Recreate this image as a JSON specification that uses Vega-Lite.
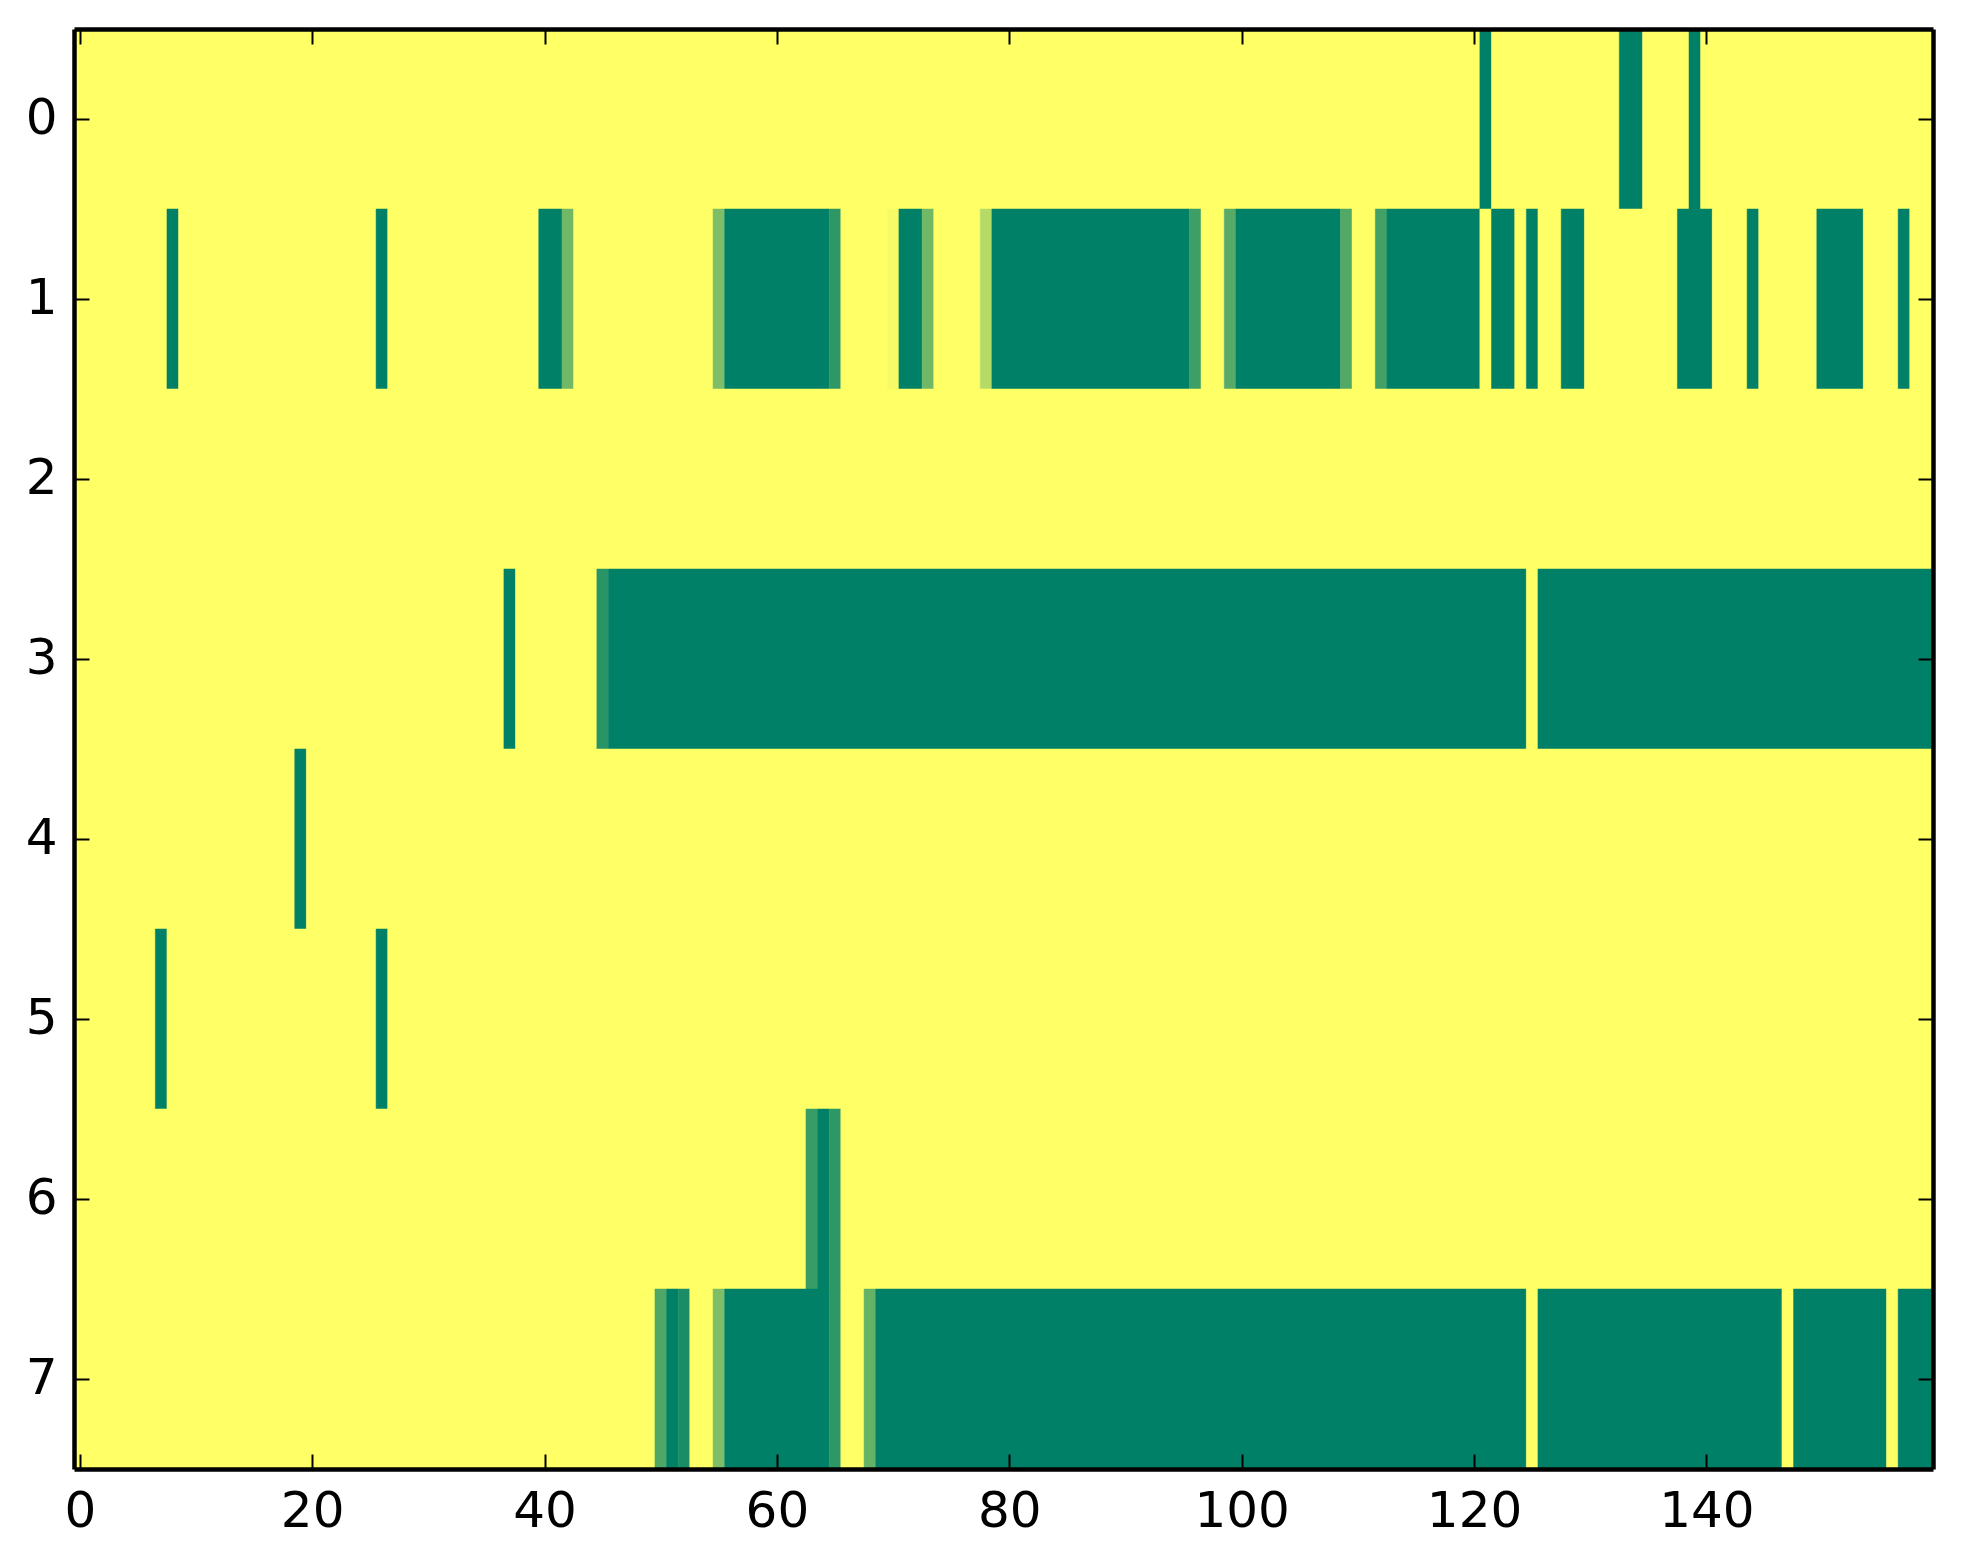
{
  "$schema": "https://vega.github.io/schema/vega-lite/v6.json",
  "width": 1859,
  "height": 1440,
  "autosize": "none",
  "padding": {"left": 74, "top": 29, "right": 30, "bottom": 95},
  "background": "white",
  "config": {
    "view": {"stroke": null},
    "axis": {
      "labelFont": "DejaVu Sans",
      "labelFontSize": 50,
      "labelColor": "black",
      "domainColor": "black",
      "domainWidth": 4.5,
      "tickColor": "black",
      "tickWidth": 2,
      "tickSize": -15,
      "grid": false,
      "title": null,
      "zindex": 2
    }
  },
  "data": {
    "values": [
      {"r": 0, "a": -0.5, "b": 120.5, "v": 1},
      {"r": 0, "a": 120.5, "b": 121.5, "v": 0},
      {"r": 0, "a": 121.5, "b": 132.5, "v": 1},
      {"r": 0, "a": 132.5, "b": 134.5, "v": 0},
      {"r": 0, "a": 134.5, "b": 138.5, "v": 1},
      {"r": 0, "a": 138.5, "b": 139.5, "v": 0},
      {"r": 0, "a": 139.5, "b": 159.5, "v": 1},

      {"r": 1, "a": -0.5, "b": 7.5, "v": 1},
      {"r": 1, "a": 7.5, "b": 8.5, "v": 0},
      {"r": 1, "a": 8.5, "b": 25.5, "v": 1},
      {"r": 1, "a": 25.5, "b": 26.5, "v": 0},
      {"r": 1, "a": 26.5, "b": 39.5, "v": 1},
      {"r": 1, "a": 39.5, "b": 41.5, "v": 0},
      {"r": 1, "a": 41.5, "b": 42.5, "v": 0.44},
      {"r": 1, "a": 42.5, "b": 54.5, "v": 1},
      {"r": 1, "a": 54.5, "b": 55.5, "v": 0.49},
      {"r": 1, "a": 55.5, "b": 64.5, "v": 0},
      {"r": 1, "a": 64.5, "b": 65.5, "v": 0.18},
      {"r": 1, "a": 65.5, "b": 69.5, "v": 1},
      {"r": 1, "a": 69.5, "b": 70.5, "v": 0.96},
      {"r": 1, "a": 70.5, "b": 72.5, "v": 0},
      {"r": 1, "a": 72.5, "b": 73.5, "v": 0.44},
      {"r": 1, "a": 73.5, "b": 77.5, "v": 1},
      {"r": 1, "a": 77.5, "b": 78.5, "v": 0.71},
      {"r": 1, "a": 78.5, "b": 95.5, "v": 0},
      {"r": 1, "a": 95.5, "b": 96.5, "v": 0.24},
      {"r": 1, "a": 96.5, "b": 98.5, "v": 1},
      {"r": 1, "a": 98.5, "b": 99.5, "v": 0.34},
      {"r": 1, "a": 99.5, "b": 108.5, "v": 0},
      {"r": 1, "a": 108.5, "b": 109.5, "v": 0.32},
      {"r": 1, "a": 109.5, "b": 111.5, "v": 1},
      {"r": 1, "a": 111.5, "b": 112.5, "v": 0.26},
      {"r": 1, "a": 112.5, "b": 120.5, "v": 0},
      {"r": 1, "a": 120.5, "b": 121.5, "v": 1},
      {"r": 1, "a": 121.5, "b": 123.5, "v": 0},
      {"r": 1, "a": 123.5, "b": 124.5, "v": 1},
      {"r": 1, "a": 124.5, "b": 125.5, "v": 0},
      {"r": 1, "a": 125.5, "b": 127.5, "v": 1},
      {"r": 1, "a": 127.5, "b": 129.5, "v": 0},
      {"r": 1, "a": 129.5, "b": 137.5, "v": 1},
      {"r": 1, "a": 137.5, "b": 140.5, "v": 0},
      {"r": 1, "a": 140.5, "b": 143.5, "v": 1},
      {"r": 1, "a": 143.5, "b": 144.5, "v": 0},
      {"r": 1, "a": 144.5, "b": 149.5, "v": 1},
      {"r": 1, "a": 149.5, "b": 153.5, "v": 0},
      {"r": 1, "a": 153.5, "b": 156.5, "v": 1},
      {"r": 1, "a": 156.5, "b": 157.5, "v": 0},
      {"r": 1, "a": 157.5, "b": 159.5, "v": 1},

      {"r": 2, "a": -0.5, "b": 159.5, "v": 1},

      {"r": 3, "a": -0.5, "b": 36.5, "v": 1},
      {"r": 3, "a": 36.5, "b": 37.5, "v": 0},
      {"r": 3, "a": 37.5, "b": 44.5, "v": 1},
      {"r": 3, "a": 44.5, "b": 45.5, "v": 0.16},
      {"r": 3, "a": 45.5, "b": 124.5, "v": 0},
      {"r": 3, "a": 124.5, "b": 125.5, "v": 1},
      {"r": 3, "a": 125.5, "b": 159.5, "v": 0},

      {"r": 4, "a": -0.5, "b": 18.5, "v": 1},
      {"r": 4, "a": 18.5, "b": 19.5, "v": 0},
      {"r": 4, "a": 19.5, "b": 159.5, "v": 1},

      {"r": 5, "a": -0.5, "b": 6.5, "v": 1},
      {"r": 5, "a": 6.5, "b": 7.5, "v": 0},
      {"r": 5, "a": 7.5, "b": 25.5, "v": 1},
      {"r": 5, "a": 25.5, "b": 26.5, "v": 0},
      {"r": 5, "a": 26.5, "b": 159.5, "v": 1},

      {"r": 6, "a": -0.5, "b": 62.5, "v": 1},
      {"r": 6, "a": 62.5, "b": 63.5, "v": 0.22},
      {"r": 6, "a": 63.5, "b": 64.5, "v": 0},
      {"r": 6, "a": 64.5, "b": 65.5, "v": 0.18},
      {"r": 6, "a": 65.5, "b": 159.5, "v": 1},

      {"r": 7, "a": -0.5, "b": 49.5, "v": 1},
      {"r": 7, "a": 49.5, "b": 50.5, "v": 0.31},
      {"r": 7, "a": 50.5, "b": 51.5, "v": 0},
      {"r": 7, "a": 51.5, "b": 52.5, "v": 0.1},
      {"r": 7, "a": 52.5, "b": 54.5, "v": 1},
      {"r": 7, "a": 54.5, "b": 55.5, "v": 0.49},
      {"r": 7, "a": 55.5, "b": 64.5, "v": 0},
      {"r": 7, "a": 64.5, "b": 65.5, "v": 0.18},
      {"r": 7, "a": 65.5, "b": 67.5, "v": 1},
      {"r": 7, "a": 67.5, "b": 68.5, "v": 0.39},
      {"r": 7, "a": 68.5, "b": 124.5, "v": 0},
      {"r": 7, "a": 124.5, "b": 125.5, "v": 1},
      {"r": 7, "a": 125.5, "b": 146.5, "v": 0},
      {"r": 7, "a": 146.5, "b": 147.5, "v": 1},
      {"r": 7, "a": 147.5, "b": 155.5, "v": 0},
      {"r": 7, "a": 155.5, "b": 156.5, "v": 1},
      {"r": 7, "a": 156.5, "b": 159.5, "v": 0}
    ]
  },
  "layer": [
    {
      "mark": {"type": "rect", "strokeWidth": 0.5},
      "encoding": {
        "x": {
          "field": "a", "type": "quantitative",
          "scale": {"domain": [-0.5, 159.5], "nice": false, "zero": false},
          "axis": {"orient": "bottom", "values": [0, 20, 40, 60, 80, 100, 120, 140], "labelPadding": 32, "format": "d", "domainWidth": 4.5, "zindex": 2}
        },
        "x2": {"field": "b"},
        "y": {
          "field": "r", "type": "ordinal",
          "scale": {"paddingInner": 0, "paddingOuter": 0},
          "axis": {"orient": "left", "labelAngle": 0, "labelPadding": 32, "domainWidth": 4.5, "zindex": 2}
        },
        "color": {
          "field": "v", "type": "quantitative",
          "scale": {"domain": [0, 1], "range": ["#008066", "#ffff66"], "interpolate": "rgb"},
          "legend": null
        },
        "stroke": {
          "field": "v", "type": "quantitative",
          "scale": {"domain": [0, 1], "range": ["#008066", "#ffff66"], "interpolate": "rgb"},
          "legend": null
        }
      }
    },
    {
      "mark": {"type": "rect", "opacity": 0},
      "encoding": {
        "x": {
          "field": "a", "type": "quantitative",
          "axis": {"orient": "top", "values": [0, 20, 40, 60, 80, 100, 120, 140], "labels": false, "domainWidth": 4.5, "zindex": 2}
        },
        "x2": {"field": "b"},
        "y": {
          "field": "r", "type": "ordinal",
          "axis": {"orient": "right", "labels": false, "domainWidth": 4.5, "zindex": 2}
        }
      }
    }
  ],
  "resolve": {"axis": {"x": "independent", "y": "independent"}}
}
